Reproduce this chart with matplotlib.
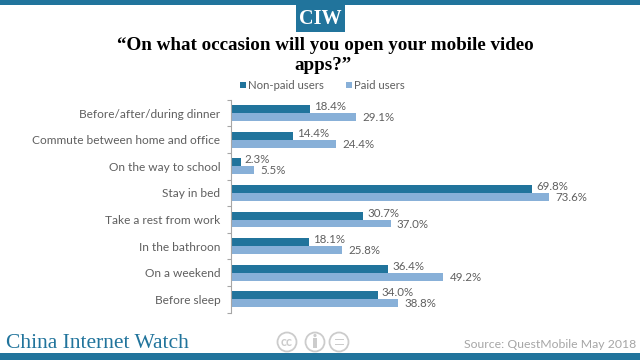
"""Horizontal bars: occasions for opening mobile video apps."""

import matplotlib

matplotlib.use("Agg")

import matplotlib.pyplot as plt
from matplotlib.patches import Circle, Rectangle

CATEGORIES = [
    "Before/after/during dinner",
    "Commute between home and office",
    "On the way to school",
    "Stay in bed",
    "Take a rest from work",
    "In the bathroon",
    "On a weekend",
    "Before sleep",
]
NON_PAID = [18.4, 14.4, 2.3, 69.8, 30.7, 18.1, 36.4, 34.0]
PAID = [29.1, 24.4, 5.5, 73.6, 37.0, 25.8, 49.2, 38.8]

DARK = "#21749c"
LIGHT = "#88b0d8"
TEXT = "#5f5f5f"
GREY = "#cccccc"
SANS = "Lato"
SERIF = "Liberation Serif"

W, H = 640, 360

figure = plt.figure(figsize=(W / 100, H / 100), dpi=100)

# page furniture, in pixel coordinates
page = figure.add_axes([0, 0, 1, 1])
page.set_xlim(0, W)
page.set_ylim(H, 0)
page.axis("off")
page.add_patch(Rectangle((0, 0), W, 4.5, color=DARK, lw=0))
page.add_patch(Rectangle((296, 4), 49, 28, color=DARK, lw=0))
page.text(320.5, 18.5, "CIW", color="white", fontsize=14.5, family=SERIF, weight="bold", ha="center", va="center")
page.text(
    325, 46, "\u201cOn what occasion will you open your mobile video",
    color="black", fontsize=13.7, family=SERIF, weight="bold", ha="center", va="center",
)
page.text(323, 65, "apps?\u201d", color="black", fontsize=13.7, family=SERIF, weight="bold", ha="center", va="center")
page.add_patch(Rectangle((240, 82), 5.5, 5.5, color=DARK, lw=0))
page.text(248, 85.5, "Non-paid users", color=TEXT, fontsize=8.2, family=SANS, va="center")
page.add_patch(Rectangle((346, 82), 5.5, 5.5, color=LIGHT, lw=0))
page.text(354, 85.5, "Paid users", color=TEXT, fontsize=8.2, family=SANS, va="center")
page.text(6, 343, "China Internet Watch", color=DARK, fontsize=15.5, family=SERIF, va="center")
page.text(636, 345, "Source: QuestMobile May 2018", color="#a6a6a6", fontsize=8.8, family=SANS, ha="right", va="center")

# licence badges
for x in (287, 315, 339):
    page.add_patch(Circle((x, 342), 9.5, fill=False, ec=GREY, lw=1.3))
page.text(287, 341.5, "cc", color=GREY, fontsize=9, family=SANS, weight="bold", ha="center", va="center")
page.add_patch(Circle((315, 335.5), 1.6, color=GREY, lw=0))
page.add_patch(Rectangle((313.3, 338), 3.4, 10, color=GREY, lw=0))
page.add_patch(Rectangle((334.5, 339), 9, 1.3, color=GREY, lw=0))
page.add_patch(Rectangle((334.5, 343.5), 9, 1.3, color=GREY, lw=0))
page.add_patch(Rectangle((0, 353), W, 7, color=DARK, lw=0))

# chart
axis = figure.add_axes([230.7 / W, 1 - 312.6 / H, 345.6 / W, 212.8 / H])
positions = range(len(CATEGORIES))
height = 0.3
axis.barh([p - height / 2 for p in positions], NON_PAID, height=height, color=DARK)
axis.barh([p + height / 2 for p in positions], PAID, height=height, color=LIGHT)

for p, non_paid, paid in zip(positions, NON_PAID, PAID):
    axis.annotate(f"{non_paid:.1f}%", (non_paid, p - height / 2), xytext=(3, 1.8), textcoords="offset points",
                  color=TEXT, fontsize=8.3, family=SANS, va="center")
    axis.annotate(f"{paid:.1f}%", (paid, p + height / 2), xytext=(4.5, -0.5), textcoords="offset points",
                  color=TEXT, fontsize=8.3, family=SANS, va="center")

axis.set_xlim(0, 80)
axis.set_ylim(len(CATEGORIES) - 0.5, -0.5)
axis.xaxis.set_visible(False)
for side in ("top", "right", "bottom"):
    axis.spines[side].set_visible(False)
axis.spines["left"].set_color("#a6a6a6")
axis.spines["left"].set_linewidth(0.8)
axis.patch.set_alpha(0)

axis.set_yticks([p - 0.5 for p in range(len(CATEGORIES) + 1)], minor=True)
axis.tick_params(axis="y", which="minor", length=3, color="#a6a6a6", width=0.8)
axis.set_yticks(list(positions), CATEGORIES)
axis.tick_params(axis="y", which="major", length=0, pad=7.5, labelsize=8.6, labelcolor=TEXT)
for label in axis.get_yticklabels():
    label.set_family(SANS)

figure.savefig("out.png", dpi=100)
